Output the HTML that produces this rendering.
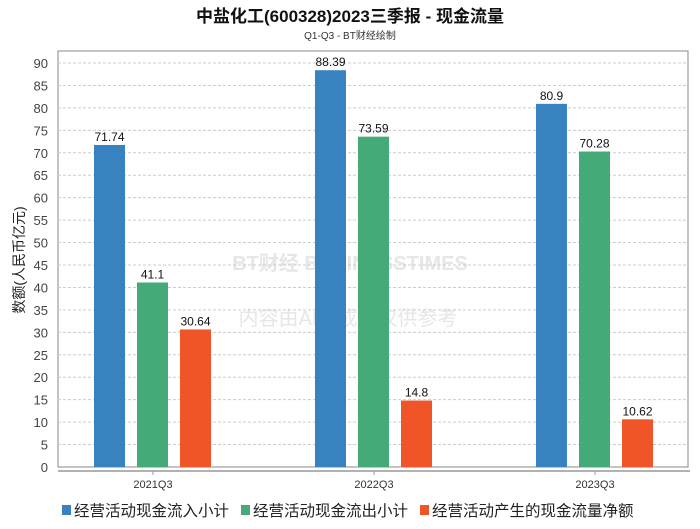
<!DOCTYPE html>
<html><head><meta charset="utf-8"><style>
body{margin:0;background:#fff;}
svg text{font-family:"Liberation Sans","Noto Sans CJK SC",sans-serif;}
</style></head><body>
<svg id="c" width="700" height="524">
<text x="350" y="22" text-anchor="middle" font-size="17" font-weight="bold" fill="#111">中盐化工(600328)2023三季报 - 现金流量</text>
<text x="350" y="39" text-anchor="middle" font-size="10" fill="#333">Q1-Q3 - BT财经绘制</text>
<rect x="58" y="51" width="630" height="416" fill="none" stroke="#888"/>
<line x1="58" y1="471" x2="690" y2="471" stroke="#999" stroke-width="1.5"/>
<text x="350" y="270" text-anchor="middle" font-size="20" fill="#e6e6e6" font-weight="bold">BT财经 BUSINESSTIMES</text>
<text x="348" y="325" text-anchor="middle" font-size="20" fill="#e6e6e6">内容由AI生成，仅供参考</text>
<text transform="translate(24,260) rotate(-90)" text-anchor="middle" font-size="14" fill="#222">数额(人民币亿元)</text>
<g id="grid"></g><g id="bars"></g>
<g font-size="15.5" fill="#222">
<rect x="62" y="505" width="9" height="10" fill="#3882c0"/>
<text x="74" y="516">经营活动现金流入小计</text>
<rect x="241" y="505" width="9" height="10" fill="#44aa78"/>
<text x="253" y="516">经营活动现金流出小计</text>
<rect x="420" y="505" width="9" height="10" fill="#f05528"/>
<text x="432" y="516">经营活动产生的现金流量净额</text>
</g>
</svg>
<script>
const categories=["2021Q3","2022Q3","2023Q3"];
const inflow=[71.74,88.39,80.9];
const outflow=[41.1,73.59,70.28];
const net=[30.64,14.8,10.62];
const yTicks=[0,5,10,15,20,25,30,35,40,45,50,55,60,65,70,75,80,85,90];
const seriesNames=["inflow","outflow","net"];
const colors=["#3882c0","#44aa78","#f05528"];
const NS="http://www.w3.org/2000/svg";
function y(v){return 467-v*(404/90);}
function xc(i){return 153+221*i;}
function mk(t,a,p){const e=document.createElementNS(NS,t);for(const k in a)e.setAttribute(k,a[k]);p.appendChild(e);return e;}
const g=document.getElementById('grid'),b=document.getElementById('bars');
yTicks.forEach(v=>{
 if(v>0){const l=mk('line',{x1:58,x2:688,y1:y(v),y2:y(v),stroke:'#ccc','stroke-dasharray':'3,2'},g);
 
 }
 const t=mk('text',{x:48,y:y(v)+5,'text-anchor':'end','font-size':13,fill:'#444'},g);t.textContent=v;
 
 
});
const data=[inflow,outflow,net];
categories.forEach((c,i)=>{
 const t=mk('text',{x:xc(i),y:488,'text-anchor':'middle','font-size':11,fill:'#333'},g);t.textContent=c;
 
 
 const tk=mk('line',{x1:xc(i),x2:xc(i),y1:471,y2:475,stroke:'#999'},g);
 
 
 data.forEach((s,j)=>{
  const x0=xc(i)-59+43*j;
  const r=mk('rect',{x:x0,y:y(s[i]),width:31,height:467-y(s[i]),fill:colors[j]},b);
  
  
  const l=mk('text',{x:x0+15.5,y:y(s[i])-4,'text-anchor':'middle','font-size':12,fill:'#111'},b);l.textContent=s[i];
  
  
 });
});
</script>
</body></html>
